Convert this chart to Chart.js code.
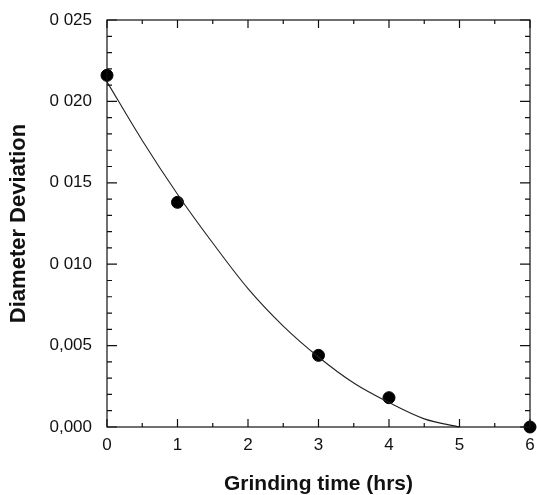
<!DOCTYPE html>
<html>
<head>
<meta charset="utf-8">
<script src="https://cdn.jsdelivr.net/npm/chart.js@4"></script>
<style>
  html, body { margin: 0; padding: 0; background: #fff; }
  #wrap { width: 537px; height: 495px; }
</style>
</head>
<body>
<div id="wrap"><canvas id="chart" width="537" height="495"></canvas></div>
<script>
// measured points
let timeHrs = [0, 1, 3, 4, 6];
let deviation = [0.0216, 0.0138, 0.0044, 0.0018, 0.0];

// fitted curve
let fitX = [0, 0.5, 1, 1.5, 2, 2.5, 3, 3.5, 4, 4.5, 5];
let fitY = [0.0212, 0.0176, 0.0143, 0.0113, 0.0085, 0.0062, 0.0043, 0.0027, 0.0015, 0.0005, 0.0];

// tick labels as printed
let xTicks = [0, 1, 2, 3, 4, 5, 6];
let yTicks = [0, 0.005, 0.010, 0.015, 0.020, 0.025];
let yTickLabels = ["0,000", "0,005", "0 010", "0 015", "0 020", "0 025"];

// inward ticks on all four sides + frame
const frameTicks = {
    id: "frameTicks",
    afterDraw(c) {
        let ctx = c.ctx;
        let a = c.chartArea;
        let xs = c.scales.x, ys = c.scales.y;
        ctx.save();
        ctx.strokeStyle = "#111";
        ctx.lineWidth = 1.2;
        ctx.strokeRect(a.left, a.top, a.right - a.left, a.bottom - a.top);
        ctx.beginPath();
        for (let v = 0; v <= 6.001; v += 0.5) {
            let px = xs.getPixelForValue(v);
            let len = Number.isInteger(v) ? 8 : 4;
            ctx.moveTo(px, a.bottom); ctx.lineTo(px, a.bottom - len);
            ctx.moveTo(px, a.top); ctx.lineTo(px, a.top + len);
        }
        for (let i = 0; i <= 25; i++) {
            let v = i * 0.001;
            let py = ys.getPixelForValue(v);
            let len = (i % 5 === 0) ? 10 : 5;
            ctx.moveTo(a.left, py); ctx.lineTo(a.left + len, py);
            ctx.moveTo(a.right, py); ctx.lineTo(a.right - len, py);
        }
        ctx.stroke();
        ctx.restore();
    }
};

let ctx = document.getElementById("chart").getContext("2d");
let chart = new Chart(ctx, {
    type: "scatter",
    data: {
        datasets: [
            {
                type: "line",
                data: fitX.map((x, i) => ({ x: x, y: fitY[i] })),
                borderColor: "#222",
                borderWidth: 1.1,
                pointRadius: 0,
                cubicInterpolationMode: "monotone",
                fill: false,
                clip: false
            },
            {
                data: timeHrs.map((x, i) => ({ x: x, y: deviation[i] })),
                backgroundColor: "#000",
                borderColor: "#000",
                pointRadius: 6,
                clip: false
            }
        ]
    },
    options: {
        responsive: false,
        animation: false,
        layout: { padding: { left: 0, right: 7, top: 20, bottom: 0 } },
        plugins: { legend: { display: false }, tooltip: { enabled: false } },
        scales: {
            x: {
                type: "linear",
                min: 0, max: 6,
                grid: { display: false, drawTicks: false },
                border: { display: false },
                afterBuildTicks: s => { s.ticks = xTicks.map(v => ({ value: v })); },
                ticks: {
                    color: "#111",
                    padding: 8,
                    font: { family: "Liberation Sans, Arial", size: 17 },
                    callback: v => String(v)
                },
                title: {
                    display: true,
                    text: "Grinding time (hrs)",
                    color: "#111",
                    padding: { top: 20, bottom: -2 },
                    font: { family: "Liberation Sans, Arial", size: 21, weight: "bold" }
                },
                afterFit: s => { s.height = 68; s.paddingLeft = 0; s.paddingRight = 0; }
            },
            y: {
                min: 0, max: 0.025,
                grid: { display: false, drawTicks: false },
                border: { display: false },
                afterBuildTicks: s => { s.ticks = yTicks.map(v => ({ value: v })); },
                ticks: {
                    color: "#111",
                    padding: 15,
                    font: { family: "Liberation Sans, Arial", size: 17 },
                    callback: (v, i) => yTickLabels[i]
                },
                title: {
                    display: true,
                    text: "Diameter Deviation",
                    color: "#111",
                    padding: { top: 6, bottom: 0 },
                    font: { family: "Liberation Sans, Arial", size: 22, weight: "bold" }
                },
                afterFit: s => { s.width = 107; s.paddingTop = 0; s.paddingBottom = 0; }
            }
        }
    },
    plugins: [frameTicks]
});
</script>
</body>
</html>
